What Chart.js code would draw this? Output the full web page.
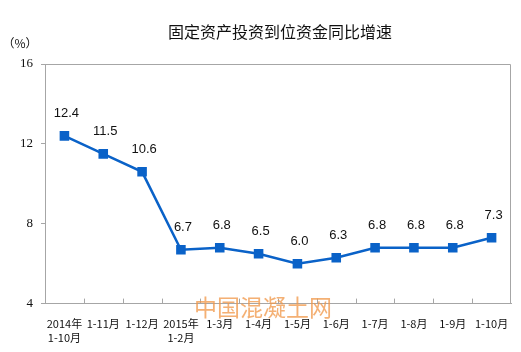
<!DOCTYPE html>
<html lang="zh">
<head>
    <meta charset="UTF-8">
    <title>固定资产投资到位资金同比增速</title>
    <script src="https://cdn.jsdelivr.net/npm/chart.js"></script>
    <style>
        body {
            margin: 0;
            background: white;
        }
        .wrap {
            width: 521px;
            height: 352px;
        }
    </style>
</head>
<body>
    <div class="wrap">
        <canvas id="growthChart" width="521" height="352"></canvas>
    </div>

    <script>
        const categories = [
            ['2014年', '1-10月'], '1-11月', '1-12月', ['2015年', '1-2月'], '1-3月', '1-4月',
            '1-5月', '1-6月', '1-7月', '1-8月', '1-9月', '1-10月'
        ];
        const growthRate = [12.4, 11.5, 10.6, 6.7, 6.8, 6.5, 6.0, 6.3, 6.8, 6.8, 6.8, 7.3];
        const yTicks = [4, 8, 12, 16];

        const cjk = '"SimSun", "Noto Sans CJK SC", sans-serif';
        const lineBlue = '#0a62c8';
        const axisGray = '#a6a6a6';

        // title, unit, frame, inner ticks, point labels, watermark
        const decorations = {
            id: 'decorations',
            afterDatasetsDraw(chart) {
                const ctx = chart.ctx;
                const area = chart.chartArea;
                const x = chart.scales.x;
                ctx.save();

                // top + right frame
                ctx.strokeStyle = axisGray;
                ctx.lineWidth = 1;
                ctx.beginPath();
                ctx.moveTo(area.left, area.top + 0.5);
                ctx.lineTo(area.right - 0.5, area.top + 0.5);
                ctx.lineTo(area.right - 0.5, area.bottom);
                ctx.stroke();

                // category separators pointing up from the x axis
                const half = (x.getPixelForValue(1) - x.getPixelForValue(0)) / 2;
                ctx.beginPath();
                for (let i = 1; i < categories.length; i++) {
                    const px = Math.round(x.getPixelForValue(i) - half) + 0.5;
                    ctx.moveTo(px, area.bottom);
                    ctx.lineTo(px, area.bottom - 5);
                }
                ctx.stroke();

                // value labels
                const meta = chart.getDatasetMeta(0);
                ctx.fillStyle = '#111';
                ctx.font = '13px Arial, "Liberation Sans", sans-serif';
                ctx.textAlign = 'center';
                ctx.textBaseline = 'middle';
                meta.data.forEach((pt, i) => {
                    ctx.fillText(growthRate[i].toFixed(1), pt.x + 2, pt.y - 22);
                });

                // title and unit
                ctx.fillStyle = '#111';
                ctx.font = '16px ' + cjk;
                ctx.fillText('固定资产投资到位资金同比增速', 280, 32);
                ctx.font = '12px ' + cjk;
                ctx.fillText('（%）', 20, 43);

                // watermark
                ctx.fillStyle = 'rgba(240, 150, 70, 0.75)';
                ctx.font = '23px ' + cjk;
                ctx.fillText('中国混凝土网', 263, 307);
                ctx.restore();
            }
        };

        new Chart(document.getElementById('growthChart'), {
            type: 'line',
            data: {
                labels: categories,
                datasets: [{
                    data: growthRate,
                    borderColor: lineBlue,
                    backgroundColor: lineBlue,
                    borderWidth: 2.5,
                    pointStyle: 'rect',
                    pointRadius: 5,
                    pointHoverRadius: 5,
                    tension: 0
                }]
            },
            options: {
                responsive: false,
                animation: false,
                layout: {
                    padding: { top: 64, right: 10, left: 0, bottom: 2 }
                },
                plugins: {
                    legend: { display: false },
                    tooltip: { enabled: false }
                },
                scales: {
                    x: {
                        offset: true,
                        grid: { display: false },
                        border: { color: axisGray, width: 1 },
                        ticks: {
                            color: '#111',
                            font: { family: cjk, size: 11, lineHeight: 1.2 },
                            maxRotation: 0,
                            autoSkip: false,
                            padding: 6
                        }
                    },
                    y: {
                        min: 4,
                        max: 16,
                        afterBuildTicks(scale) {
                            scale.ticks = yTicks.map(v => ({ value: v }));
                        },
                        afterFit(scale) {
                            scale.width = 45;
                        },
                        grid: {
                            drawOnChartArea: false,
                            color: axisGray,
                            tickLength: 4
                        },
                        border: { color: axisGray, width: 1 },
                        ticks: {
                            color: '#111',
                            font: { family: '"Liberation Serif", "Times New Roman", serif', size: 13 },
                            padding: 8
                        }
                    }
                }
            },
            plugins: [decorations]
        });
    </script>
</body>
</html>
